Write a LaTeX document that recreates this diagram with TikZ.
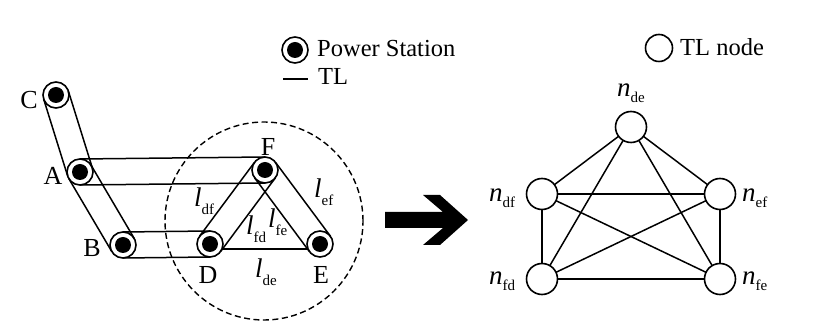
\documentclass[tikz,border=0pt]{standalone}
\usepackage{fontspec}
\setmainfont{Liberation Serif}
\usetikzlibrary{calc}
\tikzset{
	station/.style={
		draw, circle, fill=white, line width=1.6pt, minimum size=26pt,
		inner sep=0pt, outer sep=0pt
	},
	tlnode/.style={draw, circle, line width=1.6pt, minimum size=31pt, inner sep=0pt, outer sep=0pt},
	letter/.style={font={\fontsize{26}{26}\selectfont}, inner sep=0pt},
	sublbl/.style={font={\fontsize{27}{27}\selectfont}, inner sep=0pt, anchor=base west},
	legendtxt/.style={font={\fontsize{24.5}{24.5}\selectfont}, inner sep=0pt, anchor=base west},
	tl/.style={line width=1.5pt},
}
\def\rad{13pt}
\newcommand{\lsub}[3][6pt]{\textit{#2}\raisebox{-#1}{\fontsize{15}{15}\selectfont #3}}

\begin{document}
\begin{tikzpicture}[x=1pt, y=-1pt]
\useasboundingbox (0,0) rectangle (817,336);

% power stations
\node[station] (C) at (56,95) {};
\node[station] (A) at (80,172) {};
\node[station] (B) at (123,245) {};
\node[station] (D) at (210,244) {};
\node[station] (F) at (265,170) {};
\node[station] (E) at (320,244) {};
\node[letter] (lC) at (29,100) {C};
\node[letter] (lA) at (53,176) {A};
\node[letter] (lB) at (92,248) {B};
\node[letter] (lD) at (208,275) {D};
\node[letter] (lE) at (321,275) {E};
\node[letter] (lF) at (268,147) {F};

% transmission lines
\foreach \p/\q in {C/A, A/B, A/F, B/D, D/F, F/E}{
	\draw[tl] ($(\p)!\rad!90:(\q)$) -- ($(\q)!\rad!-90:(\p)$);
	\draw[tl] ($(\p)!\rad!-90:(\q)$) -- ($(\q)!\rad!90:(\p)$);
}
\draw[tl] (D.-23) -- (E.-157);

\node[sublbl] (ldf) at (194,207) {\lsub[8pt]{l}{df}};
\node[sublbl] (lef) at (314,198) {\lsub[8pt]{l}{ef}};
\node[sublbl] (lfd) at (246,235) {\lsub[8pt]{l}{fd}};
\node[sublbl] (lfe) at (268,228) {\lsub[8pt]{l}{fe}};
\node[sublbl] (lde) at (255,278) {\lsub[8pt]{l}{de}};

\draw[line width=1.4pt, dash pattern=on 6pt off 3.5pt] (264,221) circle[radius=99pt];

% arrow
\fill (385,212) -- (443,212) -- (423,195) -- (440,195) -- (468,220)
	-- (440,245) -- (423,245) -- (443,228) -- (385,228) -- cycle;

% TL nodes
\node[tlnode] (nde) at (631,127) {};
\node[tlnode] (ndf) at (542,194) {};
\node[tlnode] (nef) at (720,194) {};
\node[tlnode] (nfd) at (542,279) {};
\node[tlnode] (nfe) at (720,279) {};
\foreach \a/\b in {nde/ndf, nde/nef, nde/nfd, nde/nfe, ndf/nef, ndf/nfd, ndf/nfe, nef/nfd, nef/nfe, nfd/nfe}
	\draw[tl] (\a) -- (\b);
\node[sublbl] (lnde) at (617,97) {\lsub{n}{de}};
\node[sublbl] (lndf) at (489,202) {\lsub{n}{df}};
\node[sublbl] (lnef) at (742,202) {\lsub{n}{ef}};
\node[sublbl] (lnfd) at (489,285) {\lsub{n}{fd}};
\node[sublbl] (lnfe) at (742,285) {\lsub{n}{fe}};

% legend
\node[station] (keyps) at (295,50) {};
\node[legendtxt] (keypstxt) at (317,57) {Power Station};
\coordinate (keytlA) at (283,79);
\coordinate (keytlB) at (308,79);
\draw[tl] (keytlA) -- (keytlB);
\node[legendtxt] (keytltxt) at (318,85) {TL};
\node[tlnode, minimum size=27pt] (keyn) at (659,48) {};
\node[legendtxt] (keyntxt) at (680,56) {TL node};

% station dots
\foreach \s in {C,A,B,D,F,E,keyps}
	\fill (\s) circle[radius=8pt];
\end{tikzpicture}
\end{document}
